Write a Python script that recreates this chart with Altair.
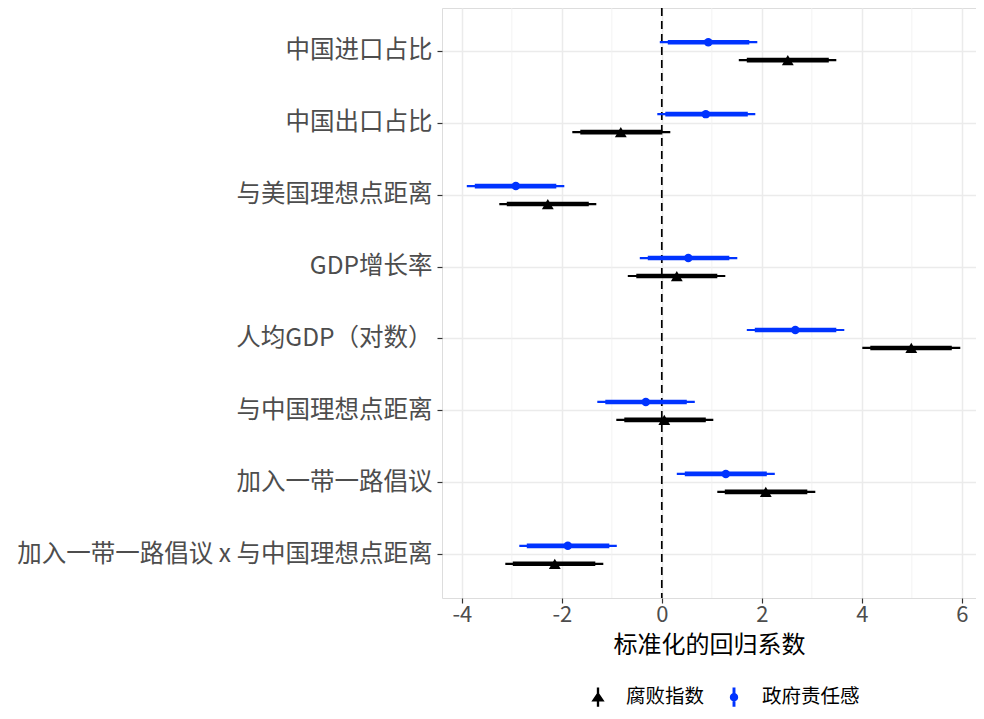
import altair as alt
import pandas as pd

variables = ["中国进口占比", "中国出口占比", "与美国理想点距离", "GDP增长率",
             "人均GDP（对数）", "与中国理想点距离", "加入一带一路倡议",
             "加入一带一路倡议 x 与中国理想点距离"]
series = ["政府责任感", "腐败指数"]
legend_order = ["腐败指数", "政府责任感"]

# 腐败指数 (black, triangles)
corr_est  = [2.52, -0.82, -2.28, 0.30, 4.99, 0.05, 2.08, -2.14]
corr_lo95 = [1.54, -1.79, -3.25, -0.68, 4.01, -0.91, 1.11, -3.13]
corr_hi95 = [3.49, 0.17, -1.31, 1.27, 5.97, 1.03, 3.07, -1.17]
corr_lo90 = [1.70, -1.63, -3.10, -0.51, 4.17, -0.75, 1.26, -2.98]
corr_hi90 = [3.34, 0.01, -1.46, 1.11, 5.80, 0.88, 2.91, -1.33]

# 政府责任感 (blue, circles)
gov_est  = [0.93, 0.88, -2.92, 0.53, 2.67, -0.32, 1.28, -1.88]
gov_lo95 = [-0.04, -0.09, -3.90, -0.44, 1.70, -1.29, 0.30, -2.85]
gov_hi95 = [1.91, 1.87, -1.95, 1.51, 3.65, 0.66, 2.26, -0.90]
gov_lo90 = [0.12, 0.07, -3.74, -0.28, 1.86, -1.13, 0.46, -2.70]
gov_hi90 = [1.75, 1.72, -2.11, 1.35, 3.49, 0.50, 2.10, -1.05]

x_ticks = [-4, -2, 0, 2, 4, 6]
minor_ticks = [-3, -1, 1, 3, 5]
x_domain = [-4.396, 6.284]

rows = []
for i, v in enumerate(variables):
    rows.append(dict(变量=v, 系列="腐败指数", est=corr_est[i], lo95=corr_lo95[i],
                     hi95=corr_hi95[i], lo90=corr_lo90[i], hi90=corr_hi90[i]))
    rows.append(dict(变量=v, 系列="政府责任感", est=gov_est[i], lo95=gov_lo95[i],
                     hi95=gov_hi95[i], lo90=gov_lo90[i], hi90=gov_hi90[i]))
df = pd.DataFrame(rows)

FONT = "Noto Sans CJK SC"
BLACK = "#000000"
BLUE = "#0033FF"

xscale = alt.Scale(domain=x_domain, nice=False, zero=False)
yscale = alt.Scale(type="band", domain=variables, paddingInner=0, paddingOuter=0.1)
offscale = alt.Scale(type="band", domain=series, paddingInner=0, paddingOuter=1)
cscale = alt.Scale(domain=legend_order, range=[BLACK, BLUE])

# legend keys: vertical range line with the point symbol on it
tri_path = ("M-0.12,-1H0.12V1H-0.12Z "
            "M-0.68,0.45L0,-0.55L0.68,0.45Z")
circ_path = ("M-0.15,-1H0.15V1H-0.15Z "
             "M-0.43,0A0.43,0.43 0 1,1 0.43,0A0.43,0.43 0 1,1 -0.43,0Z")
sscale = alt.Scale(domain=legend_order, range=[tri_path, circ_path])

xaxis = alt.Axis(values=x_ticks, title="标准化的回归系数", grid=True, gridColor="#EBEBEB",
                 gridWidth=1.5, domain=False, ticks=True, tickSize=5, tickColor="#333333",
                 tickWidth=1.2, labelFontSize=22, labelColor="#4D4D4D", labelFont=FONT,
                 labelExpr="datum.value + ''",
                 labelPadding=1, titleFont=FONT, titleFontSize=24, titleColor="#000000",
                 titleFontWeight="normal", titlePadding=8)
yaxis = alt.Axis(title=None, grid=True, gridColor="#EBEBEB", gridWidth=1.5, domain=False,
                 ticks=True, tickSize=5, tickColor="#333333", tickWidth=1.2,
                 labelFontSize=24.5, labelColor="#4D4D4D", labelFont=FONT, labelPadding=5,
                 labelLimit=600)

base = alt.Chart(df)

legend_layer = base.transform_filter("false").mark_point(
    filled=True, opacity=1, size=380, strokeWidth=0
).encode(
    color=alt.Color("系列:N", scale=cscale, sort=legend_order,
                    legend=alt.Legend(title=None, orient="none", direction="horizontal",
                                      legendX=146, legendY=679, padding=0,
                                      symbolSize=380, symbolStrokeWidth=0,
                                      symbolOpacity=1,
                                      labelFont=FONT, labelFontSize=19.5,
                                      labelColor="#000000", labelOffset=18,
                                      columnPadding=19)),
    shape=alt.Shape("系列:N", scale=sscale, sort=legend_order),
)

minor = alt.Chart(pd.DataFrame({"v": minor_ticks})).mark_rule(
    color="#F0F0F0", strokeWidth=0.8
).encode(x=alt.X("v:Q", scale=xscale, axis=xaxis))

zero = alt.Chart(pd.DataFrame({"v": [0]})).mark_rule(
    color="#000000", strokeWidth=1.7, strokeDash=[8, 5]
).encode(x=alt.X("v:Q", scale=xscale))

thin = base.mark_rule(strokeWidth=2.2).encode(
    y=alt.Y("变量:N", scale=yscale, axis=yaxis),
    yOffset=alt.YOffset("系列:N", scale=offscale),
    x=alt.X("lo95:Q", scale=xscale),
    x2="hi95:Q",
    color=alt.Color("系列:N", scale=cscale),
)
thick = base.mark_rule(strokeWidth=4.6).encode(
    y=alt.Y("变量:N", scale=yscale),
    yOffset=alt.YOffset("系列:N", scale=offscale),
    x=alt.X("lo90:Q", scale=xscale),
    x2="hi90:Q",
    color=alt.Color("系列:N", scale=cscale),
)
pts_corr = base.transform_filter(alt.datum["系列"] == "腐败指数").mark_point(
    filled=True, opacity=1, shape="triangle-up", size=140, color=BLACK
).encode(
    y=alt.Y("变量:N", scale=yscale),
    yOffset=alt.YOffset("系列:N", scale=offscale),
    x=alt.X("est:Q", scale=xscale),
)
pts_gov = base.transform_filter(alt.datum["系列"] == "政府责任感").mark_point(
    filled=True, opacity=1, shape="circle", size=72, color=BLUE
).encode(
    y=alt.Y("变量:N", scale=yscale),
    yOffset=alt.YOffset("系列:N", scale=offscale),
    x=alt.X("est:Q", scale=xscale),
)

chart = alt.layer(legend_layer, minor, zero, thin, thick, pts_corr, pts_gov).properties(
    width=534, height=590,
    autosize=alt.AutoSizeParams(type="none"),
    padding={"left": 434, "top": 0, "right": 0, "bottom": 113},
).configure_view(stroke="#333333", strokeWidth=1.2).configure(font=FONT)

chart.save("out.html", embed_options={"renderer": "svg", "actions": False})
